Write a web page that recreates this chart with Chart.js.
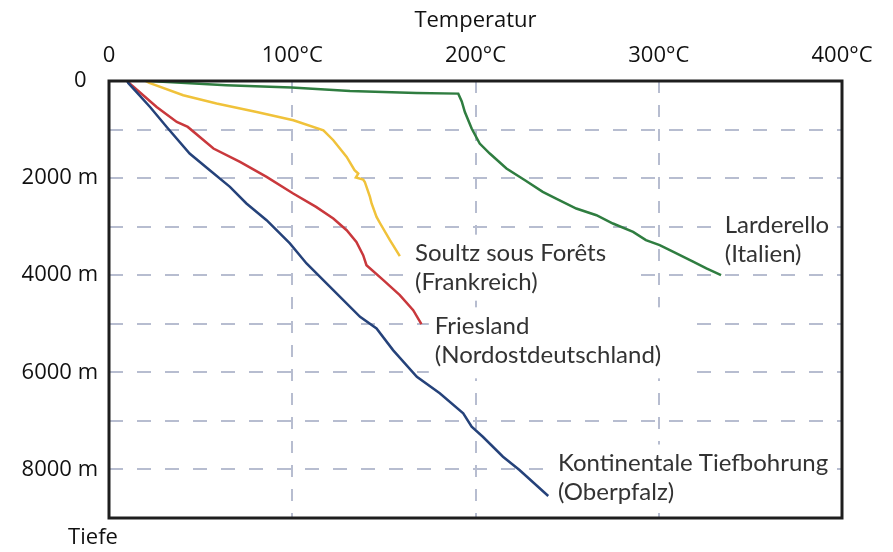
<!DOCTYPE html>
<html>
<head>
<meta charset="utf-8">
<script src="https://cdn.jsdelivr.net/npm/chart.js@4.4.1/dist/chart.umd.min.js"></script>
<style>
  body { margin: 0; background: #fff; }
</style>
</head>
<body>
<canvas id="mycanvas" width="893" height="552"></canvas>
<script>
// Temperatur (°C) und Tiefe (m) je Bohrung
var kontiTemp  = [10, 10.5, 22.4, 31.5, 44, 55, 66, 75, 86, 98.7, 107.8, 122.4, 137, 146, 155, 168, 180.5, 193.3, 197.9, 204, 215, 224, 239.7];
var kontiDepth = [0, 40, 535, 947, 1494, 1838, 2181, 2523, 2867, 3346, 3758, 4307, 4857, 5096, 5542, 6092, 6433, 6845, 7121, 7327, 7738, 8012, 8547];

var friesTemp  = [10, 12.4, 26, 37, 43, 57, 71.5, 86, 100.5, 113, 122.4, 129.7, 135, 138.7, 140.5, 149.7, 158.7, 166, 170.5];
var friesDepth = [0, 88, 535, 843, 946, 1391, 1667, 1976, 2317, 2593, 2832, 3073, 3313, 3587, 3793, 4102, 4410, 4719, 5007];

var soultzTemp  = [20, 22, 40.5, 58.7, 80.6, 100.6, 117, 122.4, 129.7, 134, 136, 134.7, 138.7, 139.6, 142.4, 143.3, 146, 148, 153.3, 158.7];
var soultzDepth = [0, 40, 294, 465, 638, 809, 1015, 1220, 1564, 1838, 1906, 1988, 2029, 2079, 2387, 2523, 2799, 2935, 3278, 3608];

var larderTemp  = [22, 64, 99.6, 131.5, 167.8, 190.6, 192.5, 194.2, 197.9, 202.3, 207.8, 216.9, 227, 236.7, 244, 255, 266, 275, 286, 293, 300.5, 308, 319, 326, 334];
var larderDepth = [0, 88, 136, 206, 247, 260, 420, 638, 980, 1288, 1494, 1803, 2044, 2284, 2420, 2626, 2764, 2935, 3108, 3278, 3381, 3519, 3725, 3861, 3999];

var depthLabels = [0, 2000, 4000, 6000, 8000];

var seriesNames = ["Kontinentale Tiefbohrung (Oberpfalz)", "Friesland (Nordostdeutschland)", "Soultz sous Forêts (Frankreich)", "Larderello (Italien)"];

// Beschriftungen an den Kurven (Ankerpunkt in Datenkoordinaten)
var curveLabels = [
  { lines: ["Larderello", "(Italien)"], t: 336, d: 2970, padR: 6, padB: 3 },
  { lines: ["Soultz sous Forêts", "(Frankreich)"], t: 167, d: 3546, padR: 28, padB: 4 },
  { lines: ["Friesland", "(Nordostdeutschland)"], t: 177.8, d: 5042, padR: 30, padB: 9 },
  { lines: ["Kontinentale Tiefbohrung", "(Oberpfalz)"], t: 245, d: 7868, padR: 6, padB: 4 }
];

function toPoints(t, d) {
  var pts = [];
  for (var i in t) {
    pts.push({ x: t[i], y: d[i] });
  }
  return pts;
}

var labelFont = '24px Lato';
var lineGap = 29;

var extras = {
  id: 'extras',
  beforeDatasetsDraw: function(chart) {
    var ctx = chart.ctx;
    var xs = chart.scales.x, ys = chart.scales.y;
    ctx.save();
    ctx.font = labelFont;
    ctx.fillStyle = '#fff';
    curveLabels.forEach(function(l) {
      var x = xs.getPixelForValue(l.t);
      var y = ys.getPixelForValue(l.d);
      var w = 0;
      l.lines.forEach(function(s) { w = Math.max(w, ctx.measureText(s).width); });
      var top = y - lineGap / 2 - 4;
      var bottom = y + (l.lines.length - 1) * lineGap + lineGap / 2 + l.padB;
      ctx.fillRect(x - 6, top, w + 6 + l.padR, bottom - top);
    });
    ctx.restore();
  },
  afterDatasetsDraw: function(chart) {
    var ctx = chart.ctx;
    var a = chart.chartArea;
    var xs = chart.scales.x, ys = chart.scales.y;
    ctx.save();
    ctx.strokeStyle = '#1e1e1e';
    ctx.lineWidth = 3;
    ctx.strokeRect(a.left, a.top, a.right - a.left, a.bottom - a.top);

    ctx.font = labelFont;
    ctx.fillStyle = '#333';
    ctx.textAlign = 'left';
    ctx.textBaseline = 'middle';
    curveLabels.forEach(function(l) {
      var x = xs.getPixelForValue(l.t);
      var y = ys.getPixelForValue(l.d);
      l.lines.forEach(function(s, i) {
        ctx.fillText(s, x, y + i * lineGap);
      });
    });

    ctx.font = '22px "Open Sans"';
    ctx.fillStyle = '#111';
    ctx.textAlign = 'center';
    ctx.fillText('Tiefe', 93, 538);
    ctx.restore();
  }
};

var ctx = document.getElementById('mycanvas');

var chartdata = {
  datasets: [
    { label: seriesNames[0], data: toPoints(kontiTemp, kontiDepth), borderColor: '#25427a' },
    { label: seriesNames[1], data: toPoints(friesTemp, friesDepth), borderColor: '#c9383c' },
    { label: seriesNames[2], data: toPoints(soultzTemp, soultzDepth), borderColor: '#f0c23a' },
    { label: seriesNames[3], data: toPoints(larderTemp, larderDepth), borderColor: '#2f7d40' }
  ]
};

var tickFont = { family: 'Open Sans', size: 22 };

var LineGraph = new Chart(ctx, {
  type: 'scatter',
  data: chartdata,
  plugins: [extras],
  options: {
    responsive: false,
    animation: false,
    showLine: true,
    layout: { padding: { left: 0, top: 0, right: 51, bottom: 34 } },
    elements: {
      line: { borderWidth: 2.5, tension: 0, fill: false },
      point: { radius: 0 }
    },
    plugins: {
      legend: { display: false },
      tooltip: { enabled: false }
    },
    scales: {
      x: {
        type: 'linear',
        position: 'top',
        min: 0,
        max: 400,
        afterFit: function(s) { s.height = 81; },
        ticks: {
          stepSize: 100,
          padding: 12,
          color: '#111',
          font: tickFont,
          maxRotation: 0,
          callback: function(v) { return v === 0 ? '0' : v + '°C'; }
        },
        grid: { color: '#b7bdd0', lineWidth: 2, drawTicks: false },
        border: { display: false, dash: [12, 12] },
        title: {
          display: true,
          text: 'Temperatur',
          color: '#111',
          font: { family: 'Open Sans', size: 22 },
          padding: { top: 8, bottom: 0 }
        }
      },
      y: {
        type: 'linear',
        reverse: true,
        min: 0,
        max: 9000,
        afterFit: function(s) { s.width = 109; },
        ticks: {
          stepSize: 1000,
          padding: 11,
          color: '#111',
          font: tickFont,
          callback: function(v) {
            if (depthLabels.indexOf(v) < 0) return '';
            return v === 0 ? '0  ' : v + ' m';
          }
        },
        grid: { color: '#b7bdd0', lineWidth: 2, drawTicks: false },
        border: { display: false, dash: [14, 14] }
      }
    }
  }
});
</script>
</body>
</html>
